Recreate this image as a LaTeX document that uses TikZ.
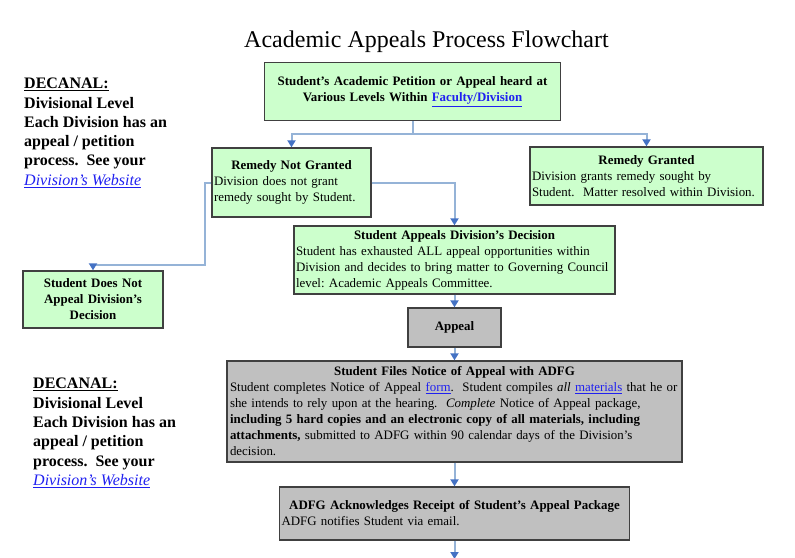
\documentclass[tikz,border=0pt]{standalone}
\usepackage{fontspec}
\setmainfont{Liberation Serif}
\usetikzlibrary{arrows.meta}
\definecolor{boxgreen}{HTML}{CCFFCC}
\definecolor{boxgray}{HTML}{C0C0C0}
\definecolor{boxline}{HTML}{404040}
\definecolor{connline}{HTML}{95B3D7}
\definecolor{conntip}{HTML}{4472C4}
\definecolor{linkblue}{HTML}{2020F0}
\newcommand\bodyline[1]{\makebox[\linewidth][l]{#1}}
\newcommand\lnk[1]{\textcolor{linkblue}{\underline{#1}}}
\frenchspacing
\begin{document}
\begin{tikzpicture}[x=1pt,y=-1pt,
  flowbox/.style={draw=boxline, line width=1.3pt, inner xsep=2pt, inner ysep=0pt,
    align=center, font=\fontsize{12.9}{16}\selectfont},
  greenbox/.style={flowbox, fill=boxgreen},
  graybox/.style={flowbox, fill=boxgray},
  conn/.style={draw=connline, line width=2pt},
  arr/.style={conn, -{Triangle[width=8pt,length=7pt,color=conntip]}},
  sidetext/.style={anchor=north west, align=left, inner sep=0pt,
    font=\fontsize{16}{19.3}\selectfont\bfseries}
]
\useasboundingbox (0,0) rectangle (795,557);

\node[anchor=base, font=\fontsize{24}{28}\selectfont] (title) at (426.5,47) {Academic Appeals Process Flowchart};

\node[sidetext] (dec1) at (24,78) {\underline{DECANAL:}\\ Divisional Level\\ Each Division has an\\ appeal / petition\\ process.\ \ See your\\ \mdseries\itshape\lnk{Division’s Website}};
\node[sidetext] (dec2) at (33,378) {\underline{DECANAL:}\\ Divisional Level\\ Each Division has an\\ appeal / petition\\ process.\ \ See your\\ \mdseries\itshape\lnk{Division’s Website}};

\node[greenbox, minimum width=296pt, minimum height=58pt, text width=292pt] (top) at (412.5,91.5)
  {\textbf{Student’s Academic Petition or Appeal heard at}\\ \textbf{Various Levels Within \lnk{Faculty/Division}}};

\node[greenbox, minimum width=159pt, minimum height=69pt, text width=155pt] (rng) at (291.5,182.5)
  {\textbf{Remedy Not Granted}\\ \bodyline{Division does not grant}\\ \bodyline{remedy sought by Student.}};

\node[greenbox, minimum width=233pt, minimum height=58pt, text width=229pt] (rg) at (646.5,176)
  {\textbf{Remedy Granted}\\ \bodyline{Division grants remedy sought by}\\ \bodyline{Student.\ \ Matter resolved within Division.}};

\node[greenbox, minimum width=140pt, minimum height=57pt, text width=136pt] (sdna) at (93,299.5)
  {\textbf{Student Does Not}\\ \textbf{Appeal Division’s}\\ \textbf{Decision}};

\node[greenbox, minimum width=321pt, minimum height=68pt, text width=317pt] (sad) at (454.5,260)
  {\textbf{Student Appeals Division’s Decision}\\
   \bodyline{Student has exhausted ALL appeal opportunities within}\\
   \bodyline{Division and decides to bring matter to Governing Council}\\
   \bodyline{level: Academic Appeals Committee.}};

\node[graybox, minimum width=93pt, minimum height=39pt] (appeal) at (454.5,327.5) {\textbf{Appeal}};

\node[graybox, minimum width=455pt, minimum height=101pt, text width=449pt, inner xsep=3pt] (sf) at (454.5,411.5)
  {\textbf{Student Files Notice of Appeal with ADFG}\\
   \bodyline{Student completes Notice of Appeal \lnk{form}.\ \ Student compiles \textit{all} \lnk{materials} that he or}\\
   \bodyline{she intends to rely upon at the hearing.\ \ \textit{Complete} Notice of Appeal package,}\\
   \bodyline{\textbf{including 5 hard copies and an electronic copy of all materials, including}}\\
   \bodyline{\textbf{attachments,} submitted to ADFG within 90 calendar days of the Division’s}\\
   \bodyline{decision.}};

\node[graybox, minimum width=350pt, minimum height=53pt, text width=346pt] (adfg) at (454.5,513.5)
  {\textbf{ADFG Acknowledges Receipt of Student’s Appeal Package}\\
   \bodyline{ADFG notifies Student via email.}};

\coordinate (split) at (412.5,134);
\coordinate (leftbend) at (204.5,264.5);
\coordinate (endpt) at (454.5,559);

\draw[conn] (top.south) -- (split);
\draw[arr] (split) -| (rng.north);
\draw[arr] (split) -| (rg.north);
\draw[arr] (rng.east) -| (sad.north);
\draw[arr] (rng.west) -- (rng.west -| leftbend) -- (leftbend) -| (sdna.north);
\draw[arr] (sad.south) -- (appeal.north);
\draw[arr] (appeal.south) -- (sf.north);
\draw[arr] (sf.south) -- (adfg.north);
\draw[arr] (adfg.south) -- (endpt);
\end{tikzpicture}
\end{document}
